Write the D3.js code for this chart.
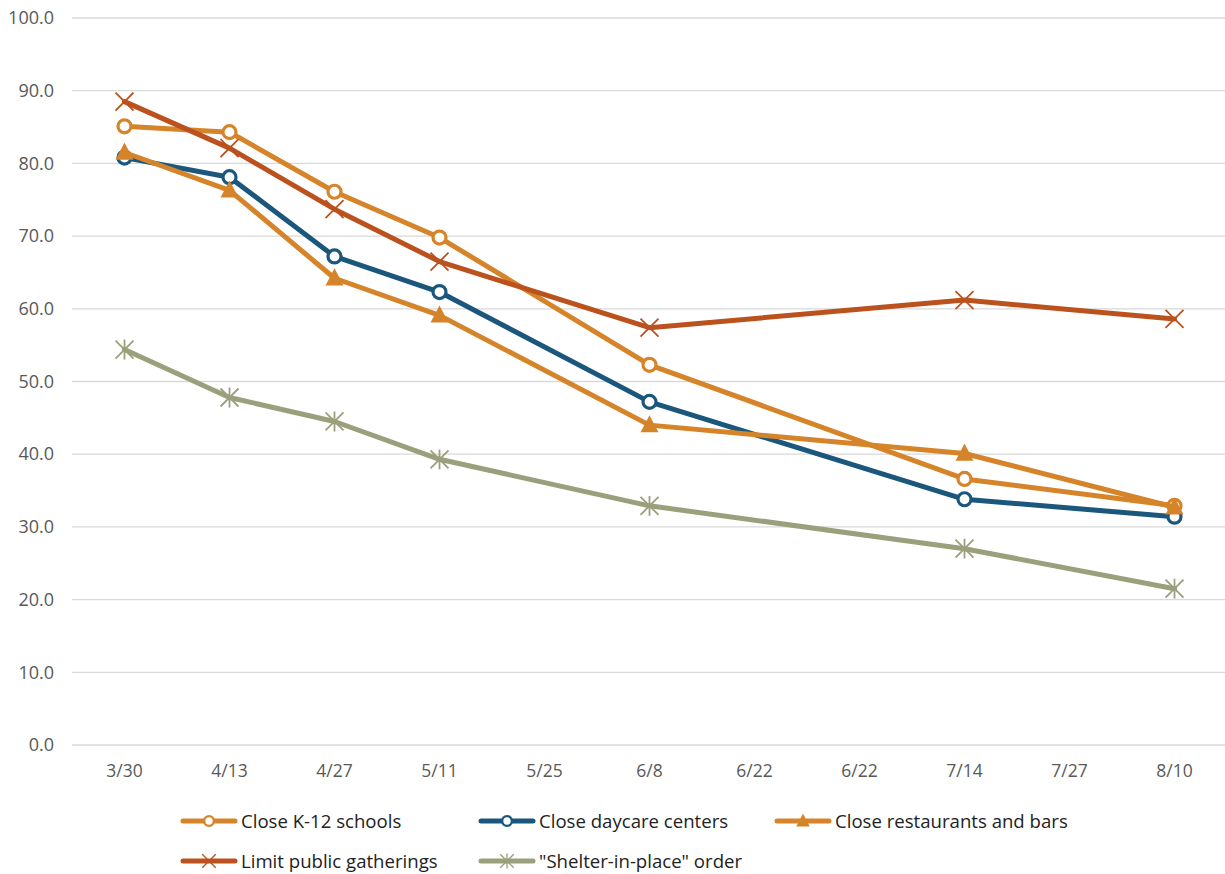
<!DOCTYPE html>
<html>
<head>
<meta charset="utf-8">
<script src="https://cdn.jsdelivr.net/npm/d3@7"></script>
<style>
  body { margin: 0; background: #fff; }
  svg { font-family: "Open Sans", sans-serif; }
</style>
</head>
<body>
<svg id="chart" width="1225" height="874"></svg>
<script>
// --------------------------
// DATA
// --------------------------
const dates = ["3/30", "4/13", "4/27", "5/11", "5/25", "6/8", "6/22", "6/22 ", "7/14", "7/27", "8/10"];
const dateLabels = ["3/30", "4/13", "4/27", "5/11", "5/25", "6/8", "6/22", "6/22", "7/14", "7/27", "8/10"];
// survey waves only at these positions
const waveIdx = [0, 1, 2, 3, 5, 8, 10];

const k12 = [85.1, 84.3, 76.1, 69.8, 52.3, 36.6, 32.9];
const daycare = [80.8, 78.1, 67.2, 62.3, 47.2, 33.8, 31.4];
const restaurants = [81.5, 76.3, 64.2, 59.1, 44.0, 40.1, 32.7];
const gatherings = [88.5, 82.1, 73.7, 66.5, 57.4, 61.2, 58.6];
const shelter = [54.4, 47.8, 44.5, 39.3, 32.9, 27.0, 21.5];

const yTicks = [0, 10, 20, 30, 40, 50, 60, 70, 80, 90, 100];

const series = [
    { name: "Close K-12 schools", values: k12, color: "#d6842a", marker: "circle" },
    { name: "Close daycare centers", values: daycare, color: "#1b567c", marker: "circle" },
    { name: "Close restaurants and bars", values: restaurants, color: "#d6842a", marker: "triangle" },
    { name: "Limit public gatherings", values: gatherings, color: "#bb521e", marker: "x" },
    { name: "\"Shelter-in-place\" order", values: shelter, color: "#9c9f7c", marker: "star" }
];

// --------------------------
// CHART
// --------------------------
const svg = d3.select("#chart");
const margin = { top: 18, right: 0, bottom: 129, left: 72 };
const width = +svg.attr("width");
const height = +svg.attr("height");

const x = d3.scaleBand()
    .domain(dates)
    .range([margin.left, width - margin.right + 2]);

const y = d3.scaleLinear()
    .domain([0, 100])
    .range([height - margin.bottom, margin.top]);

// Gridlines
svg.append("g")
    .selectAll("line")
    .data(yTicks)
    .enter()
    .append("line")
    .attr("x1", margin.left)
    .attr("x2", width)
    .attr("y1", d => y(d))
    .attr("y2", d => y(d))
    .attr("stroke", "#d9d9d9")
    .attr("stroke-width", 1.3);

// Y axis labels
const yAxis = svg.append("g")
    .attr("transform", `translate(${margin.left},0)`)
    .call(d3.axisLeft(y).tickValues(yTicks).tickFormat(d3.format(".1f")).tickSize(0).tickPadding(18));
yAxis.select(".domain").remove();
yAxis.selectAll("text")
    .attr("fill", "#595959")
    .style("font-size", "18px")
    .style("font-family", "'Open Sans', sans-serif");

// X axis labels
const xAxis = svg.append("g")
    .attr("transform", `translate(0,${height - margin.bottom})`)
    .call(d3.axisBottom(x).tickSize(0).tickPadding(20).tickFormat((d, i) => dateLabels[i]));
xAxis.select(".domain").remove();
xAxis.selectAll("text")
    .attr("fill", "#595959")
    .style("font-size", "17.5px")
    .style("font-family", "'Open Sans', sans-serif");

const cx = i => x(dates[waveIdx[i]]) + x.bandwidth() / 2;

function drawMarker(g, type, color, px, py, scale) {
    const s = scale || 1;
    if (type === "circle") {
        g.append("circle")
            .attr("cx", px).attr("cy", py).attr("r", 6.5 * s)
            .attr("fill", "#fff").attr("stroke", color).attr("stroke-width", 3.2 * s);
    } else if (type === "triangle") {
        const h = 9 * s;
        g.append("path")
            .attr("d", `M${px},${py - h * 1.1}L${px + h},${py + h * 0.8}L${px - h},${py + h * 0.8}Z`)
            .attr("fill", color);
    } else if (type === "x") {
        const r = 9 * s;
        g.append("path")
            .attr("d", `M${px - r},${py - r}L${px + r},${py + r}M${px - r},${py + r}L${px + r},${py - r}`)
            .attr("stroke", color).attr("stroke-width", 1.8 * s);
    } else if (type === "star") {
        const r = 9 * s;
        g.append("path")
            .attr("d", `M${px - r},${py - r}L${px + r},${py + r}M${px - r},${py + r}L${px + r},${py - r}M${px},${py - r * 1.1}L${px},${py + r * 1.1}`)
            .attr("stroke", color).attr("stroke-width", 1.8 * s);
    }
}

const line = d3.line()
    .x((d, i) => cx(i))
    .y(d => y(d));

series.forEach(s => {
    const g = svg.append("g");
    g.append("path")
        .datum(s.values)
        .attr("d", line)
        .attr("fill", "none")
        .attr("stroke", s.color)
        .attr("stroke-width", 5)
        .attr("stroke-linejoin", "round")
        .attr("stroke-linecap", "round");
    s.values.forEach((v, i) => drawMarker(g, s.marker, s.color, cx(i), y(v)));
});

// --------------------------
// LEGEND
// --------------------------
const legendPos = [[183, 821], [481, 821], [777, 821], [183, 861], [481, 861]];
series.forEach((s, i) => {
    const [lx, ly] = legendPos[i];
    const g = svg.append("g");
    g.append("line")
        .attr("x1", lx).attr("x2", lx + 52)
        .attr("y1", ly).attr("y2", ly)
        .attr("stroke", s.color).attr("stroke-width", 5)
        .attr("stroke-linecap", "round");
    drawMarker(g, s.marker, s.color, lx + 26, ly, 0.75);
    g.append("text")
        .attr("x", lx + 58)
        .attr("y", ly)
        .attr("dy", "0.35em")
        .attr("fill", "#222")
        .style("font-size", "18.6px")
        .text(s.name);
});
</script>
</body>
</html>
